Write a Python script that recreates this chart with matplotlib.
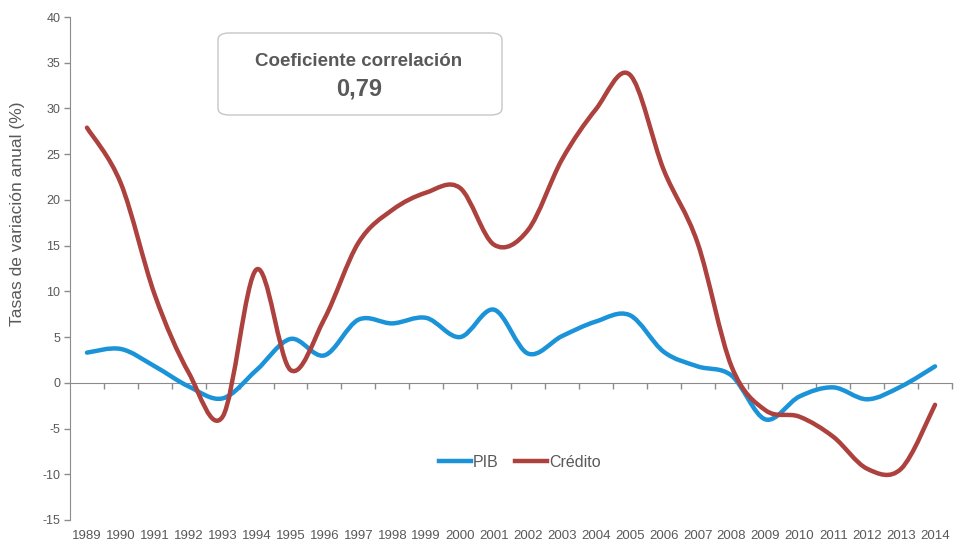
import matplotlib
matplotlib.use("Agg")
import matplotlib.pyplot as plt
from matplotlib.path import Path
from matplotlib.patches import PathPatch, FancyBboxPatch
from matplotlib.lines import Line2D

# ---- data ----
years = [str(y) for y in range(1989, 2015)]

pib = [3.3, 3.7, 1.8, -0.4, -1.7, 1.4, 4.8, 3.0, 6.9, 6.5, 7.1, 5.0, 8.0,
       3.2, 5.1, 6.7, 7.4, 3.4, 1.8, 0.8, -4.0, -1.5, -0.5, -1.8, -0.4, 1.8]

credito = [27.9, 21.8, 9.6, 1.1, -3.7, 12.4, 1.4, 7.0, 15.3, 18.9, 20.8, 21.3, 15.1,
           16.7, 24.4, 29.9, 33.7, 23.3, 15.3, 1.8, -3.0, -3.7, -5.9, -9.4, -9.4, -2.4]

y_ticks = list(range(-15, 45, 5))
corr_title = "Coeficiente correlación"
corr_value = "0,79"

BLUE = "#1b93d9"
RED = "#ad413e"
GREY_TXT = "#595959"
GREY_AX = "#8c8c8c"

plt.rcParams['font.family'] = ['Liberation Sans', 'DejaVu Sans']


def smooth_path(xs, ys):
    # excel-like smoothed line: catmull-rom turned into cubic bezier segments
    pts = list(zip(xs, ys))
    verts = [pts[0]]
    codes = [Path.MOVETO]
    n = len(pts)
    for i in range(n - 1):
        p0 = pts[i - 1] if i > 0 else pts[i]
        p1 = pts[i]
        p2 = pts[i + 1]
        p3 = pts[i + 2] if i + 2 < n else pts[i + 1]
        c1 = (p1[0] + (p2[0] - p0[0]) / 6.0, p1[1] + (p2[1] - p0[1]) / 6.0)
        c2 = (p2[0] - (p3[0] - p1[0]) / 6.0, p2[1] - (p3[1] - p1[1]) / 6.0)
        verts += [c1, c2, p2]
        codes += [Path.CURVE4] * 3
    return Path(verts, codes)


fig = plt.figure(figsize=(9.55, 5.46), dpi=100)
ax = fig.add_axes([70 / 955, 26 / 546, 882 / 955, 503 / 546])

x = list(range(len(years)))
for vals, col in [(pib, BLUE), (credito, RED)]:
    patch = PathPatch(smooth_path(x, vals), facecolor="none", edgecolor=col,
                      lw=3.2, capstyle="round", joinstyle="round", zorder=3)
    ax.add_patch(patch)

ax.set_xlim(-0.5, len(years) - 0.5)
ax.set_ylim(-15, 40)

# y axis
ax.set_yticks(y_ticks)
ax.set_yticklabels([str(t) for t in y_ticks])
ax.tick_params(axis="y", direction="out", length=4, width=1, color=GREY_AX,
               labelsize=9, labelcolor=GREY_TXT, pad=3)
ax.spines["left"].set_color(GREY_AX)
ax.spines["top"].set_visible(False)
ax.spines["right"].set_visible(False)

# category axis crosses at zero, ticks between categories
ax.spines["bottom"].set_position(("data", 0))
ax.spines["bottom"].set_color(GREY_AX)
ax.set_xticks([i + 0.5 for i in range(len(years))])
ax.set_xticklabels([])
ax.tick_params(axis="x", direction="out", length=4, width=1, color=GREY_AX)

# year labels at the bottom of the plot
sec = ax.secondary_xaxis("bottom")
sec.set_xticks(x)
sec.set_xticklabels(years)
sec.tick_params(length=0, labelsize=9.5, labelcolor=GREY_TXT, pad=7)
sec.spines["bottom"].set_visible(False)

fig.text(18 / 955, 1 - 214 / 546, "Tasas de variación anual (%)", rotation=90,
         ha="center", va="center", fontsize=12.5, color=GREY_TXT)

# correlation box
box = FancyBboxPatch((218 / 955, 1 - 115 / 546), 284 / 955, 82 / 546,
                     boxstyle="round,pad=0,rounding_size=0.012",
                     transform=fig.transFigure, facecolor="white",
                     edgecolor="#c6c6c6", lw=1.0)
fig.add_artist(box)
fig.text(359 / 955, 1 - 61 / 546, corr_title, ha="center", va="center",
         fontsize=13.5, fontweight="bold", color=GREY_TXT)
fig.text(359 / 955, 1 - 89 / 546, corr_value, ha="center", va="center",
         fontsize=17, fontweight="bold", color=GREY_TXT)

handles = [Line2D([], [], color=BLUE, lw=3.2), Line2D([], [], color=RED, lw=3.2)]
ax.legend(handles, ["PIB", "Crédito"], loc="center", bbox_to_anchor=(0.51, 0.115),
          ncol=2, frameon=False, fontsize=11.5, handlelength=2.0, handletextpad=0.15,
          columnspacing=1.0, labelcolor=GREY_TXT)

fig.savefig("out.png", dpi=100)
